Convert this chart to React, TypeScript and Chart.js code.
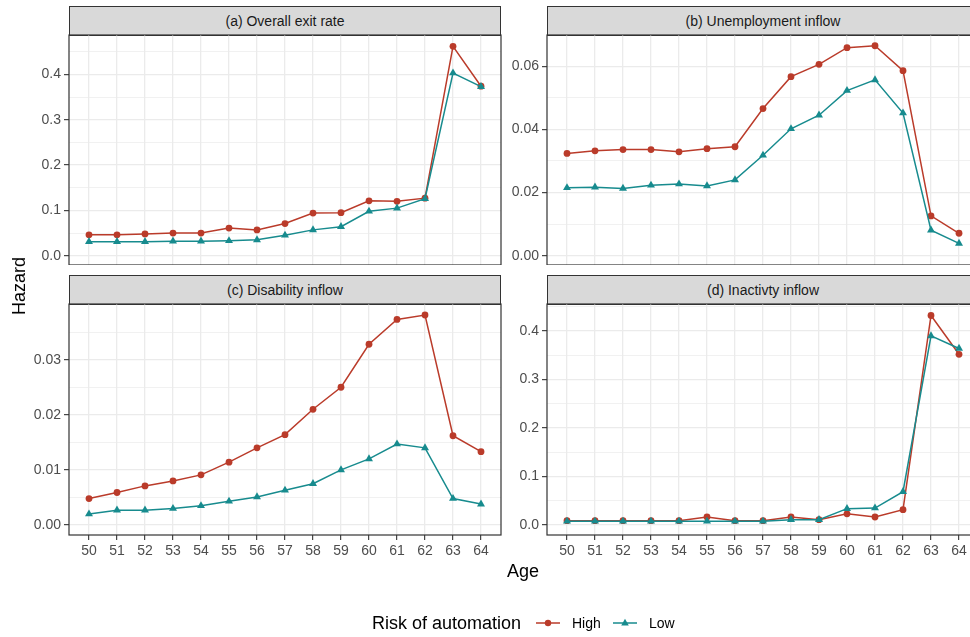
import React, { useEffect, useRef } from 'react';
import { Chart, registerables } from 'chart.js';

Chart.register(...registerables);

// ---------------- data ----------------
const AGES = [50, 51, 52, 53, 54, 55, 56, 57, 58, 59, 60, 61, 62, 63, 64];
const AGE_LABELS = ['50', '51', '52', '53', '54', '55', '56', '57', '58', '59', '60', '61', '62', '63', '64'];

const SERIES_NAMES = ['High', 'Low'];
const LEGEND_TITLE = 'Risk of automation';
const Y_TITLE = 'Hazard';
const X_TITLE = 'Age';

const EXIT_TITLE = '(a) Overall exit rate';
const EXIT_HIGH = [0.046, 0.046, 0.048, 0.050, 0.050, 0.061, 0.057, 0.071, 0.094, 0.095, 0.121, 0.120, 0.127, 0.462, 0.374];
const EXIT_LOW = [0.031, 0.031, 0.031, 0.032, 0.032, 0.033, 0.035, 0.045, 0.057, 0.064, 0.098, 0.105, 0.126, 0.403, 0.373];
const EXIT_Y_TICKS = [0, 0.1, 0.2, 0.3, 0.4];
const EXIT_Y_LABELS = ['0.0', '0.1', '0.2', '0.3', '0.4'];
const EXIT_Y_MINOR = [0.05, 0.15, 0.25, 0.35, 0.45];

const UNEMP_TITLE = '(b) Unemployment inflow';
const UNEMP_HIGH = [0.0324, 0.0332, 0.0336, 0.0336, 0.0329, 0.0339, 0.0345, 0.0466, 0.0567, 0.0606, 0.0659, 0.0665, 0.0586, 0.0126, 0.0071];
const UNEMP_LOW = [0.0215, 0.0217, 0.0213, 0.0223, 0.0227, 0.0221, 0.0240, 0.0318, 0.0402, 0.0445, 0.0523, 0.0557, 0.0452, 0.0081, 0.0039];
const UNEMP_Y_TICKS = [0, 0.02, 0.04, 0.06];
const UNEMP_Y_LABELS = ['0.00', '0.02', '0.04', '0.06'];
const UNEMP_Y_MINOR = [0.01, 0.03, 0.05];

const DIS_TITLE = '(c) Disability inflow';
const DIS_HIGH = [0.0048, 0.0059, 0.0071, 0.0080, 0.0091, 0.0114, 0.0140, 0.0164, 0.0210, 0.0250, 0.0328, 0.0373, 0.0381, 0.0162, 0.0133];
const DIS_LOW = [0.0020, 0.0027, 0.0027, 0.0030, 0.0035, 0.0043, 0.0051, 0.0063, 0.0075, 0.0100, 0.0120, 0.0147, 0.0140, 0.0048, 0.0038];
const DIS_Y_TICKS = [0, 0.01, 0.02, 0.03];
const DIS_Y_LABELS = ['0.00', '0.01', '0.02', '0.03'];
const DIS_Y_MINOR = [0.005, 0.015, 0.025, 0.035];

const INACT_TITLE = '(d) Inactivty inflow';
const INACT_HIGH = [0.009, 0.009, 0.009, 0.009, 0.009, 0.0165, 0.009, 0.009, 0.0165, 0.011, 0.023, 0.0165, 0.0316, 0.432, 0.352];
const INACT_LOW = [0.0076, 0.0076, 0.0076, 0.0076, 0.0076, 0.0076, 0.0076, 0.0076, 0.011, 0.011, 0.0337, 0.035, 0.0687, 0.390, 0.364];
const INACT_Y_TICKS = [0, 0.1, 0.2, 0.3, 0.4];
const INACT_Y_LABELS = ['0.0', '0.1', '0.2', '0.3', '0.4'];
const INACT_Y_MINOR = [0.05, 0.15, 0.25, 0.35, 0.45];

// ---------------- style ----------------
const RED = '#BA3B2A';
const TEAL = '#178B8E';
const FONT = '"Liberation Sans", Arial, Helvetica, sans-serif';
const X_MIN = 49.286;
const X_MAX = 64.714;
const Y_AXIS_W = 60;
const X_AXIS_H = 32;

const PANELS = [
  { title: EXIT_TITLE, high: EXIT_HIGH, low: EXIT_LOW, ticks: EXIT_Y_TICKS, labels: EXIT_Y_LABELS, minor: EXIT_Y_MINOR,
    yMin: -0.0205, yMax: 0.487, x0: 69, x1: 501, stripTop: 6, y0: 35, y1: 265, showX: false },
  { title: UNEMP_TITLE, high: UNEMP_HIGH, low: UNEMP_LOW, ticks: UNEMP_Y_TICKS, labels: UNEMP_Y_LABELS, minor: UNEMP_Y_MINOR,
    yMin: -0.00295, yMax: 0.0699, x0: 547, x1: 979, stripTop: 6, y0: 35, y1: 265, showX: false },
  { title: DIS_TITLE, high: DIS_HIGH, low: DIS_LOW, ticks: DIS_Y_TICKS, labels: DIS_Y_LABELS, minor: DIS_Y_MINOR,
    yMin: -0.00181, yMax: 0.0401, x0: 69, x1: 501, stripTop: 275, y0: 304, y1: 535, showX: true },
  { title: INACT_TITLE, high: INACT_HIGH, low: INACT_LOW, ticks: INACT_Y_TICKS, labels: INACT_Y_LABELS, minor: INACT_Y_MINOR,
    yMin: -0.0206, yMax: 0.4557, x0: 547, x1: 979, stripTop: 275, y0: 304, y1: 535, showX: true },
];

const panelBorder = {
  id: 'panelBorder',
  afterDraw(chart: any) {
    const { ctx, chartArea } = chart;
    const { left, top, right, bottom } = chartArea;
    ctx.save();
    ctx.strokeStyle = '#333333';
    ctx.lineWidth = 1.2;
    ctx.strokeRect(left, top, right - left, bottom - top);
    ctx.restore();
  },
};

function Panel({ p }: { p: any }) {
  const ref = useRef<HTMLCanvasElement | null>(null);
  const xH = p.showX ? X_AXIS_H : 0;
  const w = Y_AXIS_W + (p.x1 - p.x0) + 1;
  const h = 1 + (p.y1 - p.y0) + xH;

  useEffect(() => {
    const near = (a: number, b: number) => Math.abs(a - b) < 1e-9;
    const isMajor = (v: number) => p.ticks.some((t: number) => near(t, v));
    const allY = [...p.ticks, ...p.minor].sort((a: number, b: number) => a - b);
    const chart = new Chart(ref.current as HTMLCanvasElement, {
      type: 'line',
      data: {
        datasets: [
          {
            label: SERIES_NAMES[0],
            data: AGES.map((a, i) => ({ x: a, y: p.high[i] })),
            borderColor: RED,
            backgroundColor: RED,
            pointBackgroundColor: RED,
            pointBorderColor: RED,
            pointStyle: 'circle',
            pointRadius: 3.4,
            pointBorderWidth: 0,
            borderWidth: 1.5,
            order: 1,
          },
          {
            label: SERIES_NAMES[1],
            data: AGES.map((a, i) => ({ x: a, y: p.low[i] })),
            borderColor: TEAL,
            backgroundColor: TEAL,
            pointBackgroundColor: TEAL,
            pointBorderColor: TEAL,
            pointStyle: 'triangle',
            pointRadius: 4.6,
            pointBorderWidth: 0,
            borderWidth: 1.5,
            order: 0,
          },
        ],
      },
      options: {
        responsive: false,
        animation: false,
        devicePixelRatio: 1,
        events: [],
        layout: { autoPadding: false, padding: { top: 1, right: 1, left: 0, bottom: 0 } },
        plugins: { legend: { display: false }, tooltip: { enabled: false } },
        scales: {
          x: {
            type: 'linear',
            min: X_MIN,
            max: X_MAX,
            afterBuildTicks: (s: any) => { s.ticks = AGES.map((v) => ({ value: v })); },
            afterFit: (s: any) => { s.height = xH; s.paddingLeft = 0; s.paddingRight = 0; s.paddingTop = 0; s.paddingBottom = 0; },
            grid: { color: '#EBEBEB', lineWidth: 1.3, drawTicks: p.showX, tickLength: 5, tickColor: '#333333', tickWidth: 1.1 },
            border: { display: false },
            ticks: {
              display: p.showX,
              color: '#4D4D4D',
              font: { family: FONT, size: 14 },
              padding: 3,
              maxRotation: 0,
              autoSkip: false,
              callback: (_v: any, i: number) => AGE_LABELS[i],
            },
          },
          y: {
            type: 'linear',
            min: p.yMin,
            max: p.yMax,
            afterBuildTicks: (s: any) => { s.ticks = allY.map((v: number) => ({ value: v })); },
            afterFit: (s: any) => { s.width = Y_AXIS_W; s.paddingTop = 0; s.paddingBottom = 0; s.paddingLeft = 0; s.paddingRight = 0; },
            grid: {
              color: '#EBEBEB',
              lineWidth: (ctx: any) => (isMajor(ctx.tick.value) ? 1.3 : 0.7),
              tickColor: (ctx: any) => (isMajor(ctx.tick.value) ? '#333333' : 'rgba(0,0,0,0)'),
              tickLength: 5,
              tickWidth: 1.1,
            },
            border: { display: false },
            ticks: {
              color: '#4D4D4D',
              font: { family: FONT, size: 14 },
              padding: 3,
              autoSkip: false,
              callback: (v: any) => {
                const i = p.ticks.findIndex((t: number) => near(t, Number(v)));
                return i >= 0 ? p.labels[i] : '';
              },
            },
          },
        },
      } as any,
      plugins: [panelBorder],
    });
    return () => chart.destroy();
  }, []);

  return (
    <>
      <div
        style={{
          position: 'absolute',
          left: p.x0,
          top: p.stripTop,
          width: p.x1 - p.x0,
          height: p.y0 - p.stripTop + 1,
          boxSizing: 'border-box',
          border: '1.2px solid #333333',
          background: '#D9D9D9',
          display: 'flex',
          alignItems: 'center',
          justifyContent: 'center',
          fontFamily: FONT,
          fontSize: 14,
          color: '#1A1A1A',
        }}
      >
        {p.title}
      </div>
      <canvas
        ref={ref}
        width={w}
        height={h}
        style={{ position: 'absolute', left: p.x0 - Y_AXIS_W, top: p.y0 - 1, width: w, height: h }}
      />
    </>
  );
}

function LegendKey({ color, shape }: { color: string; shape: string }) {
  return (
    <svg width={24} height={12} style={{ display: 'block' }}>
      <line x1={0} y1={6} x2={24} y2={6} stroke={color} strokeWidth={1.5} />
      {shape === 'circle' ? (
        <circle cx={12} cy={6} r={3.2} fill={color} />
      ) : (
        <polygon points="12,1.8 15.8,8.4 8.2,8.4" fill={color} />
      )}
    </svg>
  );
}

export default function App() {
  useEffect(() => {
    document.body.style.margin = '0';
  }, []);
  const text = { position: 'absolute' as const, fontFamily: FONT, whiteSpace: 'nowrap' as const, lineHeight: '20px' };
  return (
    <div style={{ position: 'fixed', left: 0, top: 0, width: 970, height: 637, overflow: 'hidden', background: '#FFFFFF' }}>
      {PANELS.map((p, i) => (
        <Panel key={i} p={p} />
      ))}
      <div
        style={{
          ...text,
          left: 18.5,
          top: 286,
          fontSize: 18,
          color: '#000',
          transform: 'translate(-50%, -50%) rotate(-90deg)',
        }}
      >
        {Y_TITLE}
      </div>
      <div style={{ ...text, left: 523, top: 571, fontSize: 18, color: '#000', transform: 'translate(-50%, -50%)' }}>
        {X_TITLE}
      </div>
      <div style={{ ...text, left: 372, top: 613, fontSize: 18, color: '#000' }}>{LEGEND_TITLE}</div>
      <div style={{ position: 'absolute', left: 536, top: 617 }}>
        <LegendKey color={RED} shape="circle" />
      </div>
      <div style={{ ...text, left: 572, top: 613, fontSize: 14, color: '#000' }}>{SERIES_NAMES[0]}</div>
      <div style={{ position: 'absolute', left: 613, top: 617 }}>
        <LegendKey color={TEAL} shape="triangle" />
      </div>
      <div style={{ ...text, left: 649, top: 613, fontSize: 14, color: '#000' }}>{SERIES_NAMES[1]}</div>
    </div>
  );
}
